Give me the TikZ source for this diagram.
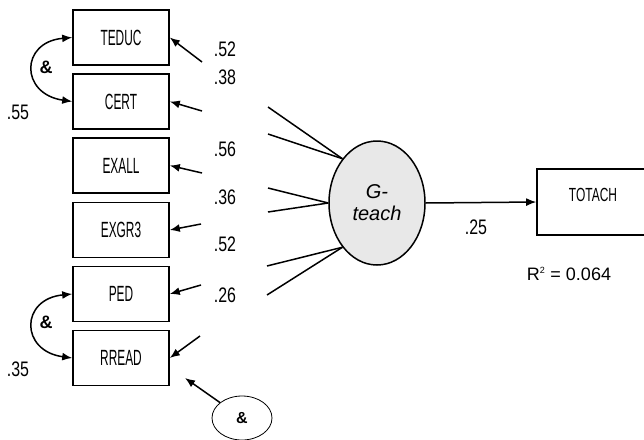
\documentclass[tikz,border=0pt]{standalone}
\usepackage{fontspec}
\setmainfont{Liberation Sans}
\newfontfamily\numfont[FakeStretch=0.76]{Liberation Sans}
\newfontfamily\boxfont[FakeStretch=0.54]{Liberation Sans}
\newfontfamily\totfont[FakeStretch=0.63]{Liberation Sans}
\usetikzlibrary{arrows.meta,shapes.geometric}
\begin{document}
\begin{tikzpicture}[x=1pt,y=-1pt,
  obs/.style={draw,line width=1.6pt,minimum width=96pt,minimum height=55pt,inner sep=0pt,font=\boxfont\fontsize{22}{24}\selectfont},
  num/.style={font=\numfont\fontsize{21}{22}\selectfont,inner sep=0pt},
  arr/.style={line width=1.5pt,-{Latex[length=10pt,width=8pt]}},
  cov/.style={line width=1.5pt,{Latex[length=10pt,width=8pt]}-{Latex[length=10pt,width=8pt]}},
  ln/.style={line width=1.5pt}]
\useasboundingbox (0,0) rectangle (644,439);
% observed boxes
\node[obs] (b1) at (121,37.5) {TEDUC};
\node[obs] (b2) at (121,101.5) {CERT};
\node[obs] (b3) at (121,165.5) {EXALL};
\node[obs] (b4) at (121,230) {EXGR3};
\node[obs] (b5) at (121,294) {PED};
\node[obs] (b6) at (121,358) {RREAD};
% latent
\node[draw,line width=1.5pt,fill=black!9,ellipse,minimum width=96pt,minimum height=124pt,inner sep=0pt,align=center,font=\itshape\fontsize{20}{22}\selectfont] (g) at (377,203) {G-\\teach};
% outcome box (cut off at right)
\node[draw,line width=1.6pt,minimum width=113pt,minimum height=66pt,inner sep=0pt] (t) at (593.5,202) {};
\node[font=\totfont\fontsize{19}{22}\selectfont] (tl) at (593,195) {TOTACH};
% bottom small ellipse
\node[draw,line width=0.8pt,ellipse,minimum width=60pt,minimum height=44pt,inner sep=0pt,font=\fontsize{16}{18}\selectfont\bfseries] (e2) at (242,418) {\&};
\coordinate (etip) at (185,378);
% error arrows into boxes
\coordinate (s1) at (202,62);
\coordinate (s2) at (202,111);
\coordinate (s3) at (202,173);
\coordinate (s4) at (201,224);
\coordinate (s5) at (201,285);
\coordinate (s6) at (200,336);
\draw[arr] (s1) -- (b1.east);
\draw[arr] (s2) -- (b2.east);
\draw[arr] (s3) -- (b3.east);
\draw[arr] (s4) -- (b4.east);
\draw[arr] (s5) -- (b5.east);
\draw[arr] (s6) -- (b6.east);
\draw[arr] (e2) -- (etip);
% loading lines
\coordinate (l1) at (268,107);
\coordinate (l2) at (268,134);
\coordinate (l3) at (268,188);
\coordinate (l4) at (268,212);
\coordinate (l5) at (267,266);
\coordinate (l6) at (267,295);
\draw[ln] (l1) -- (g.128);
\draw[ln] (l2) -- (g.128);
\draw[ln] (l3) -- (g.180);
\draw[ln] (l4) -- (g.180);
\draw[ln] (l5) -- (g.232);
\draw[ln] (l6) -- (g.232);
% path to outcome
\draw[arr] (g.east) -- (t.west);
% covariances
\draw[cov] (b1.west) .. controls (20,42) and (20,94) .. (b2.west);
\draw[cov] (b5.west) .. controls (20,299) and (20,351) .. (b6.west);
\node[font=\fontsize{18}{20}\selectfont\bfseries] (a1) at (46,67) {\&};
\node[font=\fontsize{18}{20}\selectfont\bfseries] (a2) at (46,322) {\&};
% numbers
\node[num] (n1) at (225,49) {.52};
\node[num] (n2) at (225,77) {.38};
\node[num] (n3) at (18,112) {.55};
\node[num] (n4) at (225,149) {.56};
\node[num] (n5) at (225,197) {.36};
\node[num] (n6) at (225,244) {.52};
\node[num] (n7) at (225,295) {.26};
\node[num] (n8) at (18,369) {.35};
\node[num] (n9) at (476,227) {.25};
\node[font=\fontsize{18}{21}\selectfont,inner sep=0pt] (r2) at (569,274) {R\textsuperscript{\fontsize{9}{10}\selectfont 2} = 0.064};
\end{tikzpicture}
\end{document}
